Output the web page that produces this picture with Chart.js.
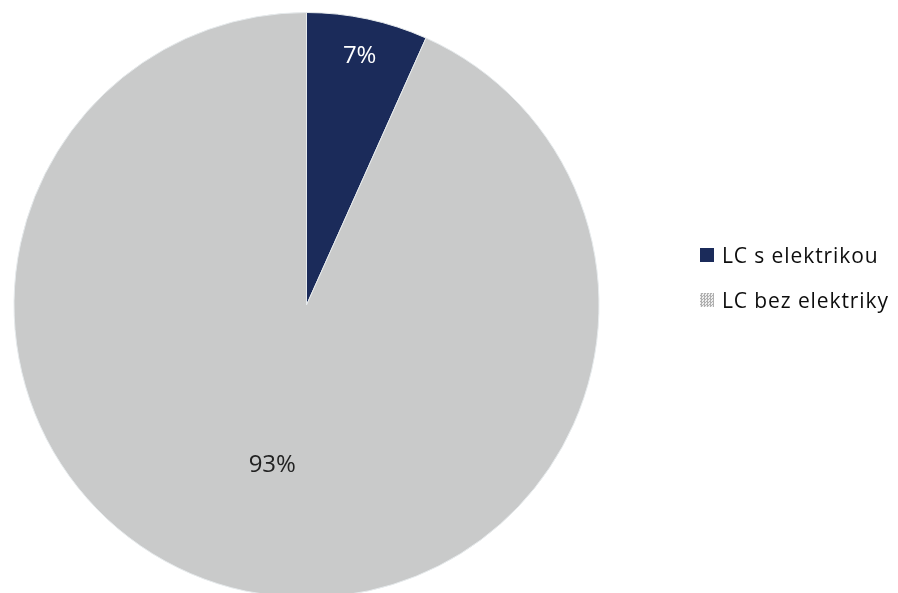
<!DOCTYPE html>
<html>
<head>
<meta charset="utf-8">
<script src="https://cdn.jsdelivr.net/npm/chart.js@4.4.1/dist/chart.umd.min.js"></script>
<style>
    html, body { margin: 0; padding: 0; background: #fff; overflow: hidden; }
    #wrap { position: relative; width: 898px; height: 593px; overflow: hidden; }
    #pie { position: absolute; left: 0; top: 0; }
    #legend { position: absolute; left: 700px; top: 232px; font-family: 'Open Sans', sans-serif; font-size: 21px; letter-spacing: 0.9px; color: #0d0d0d; }
    .item { display: flex; align-items: center; height: 45px; }
    .box { width: 14px; height: 14px; margin-right: 8px; }
</style>
</head>
<body>
<div id="wrap">
    <canvas id="pie" width="898" height="610"></canvas>
    <div id="legend"></div>
</div>
<script>
const labels = ['LC s elektrikou', 'LC bez elektriky']
const values = [6.7, 93.3]
const shownPct = ['7%', '93%']
const colors = ['#1b2b5a', '#c9caca']
const labelColors = ['#ffffff', '#222222']
const labelRadius = [0.87, 0.56]

const pctLabels = {
    id: 'pctLabels',
    afterDatasetsDraw(chart) {
        const ctx = chart.ctx
        const meta = chart.getDatasetMeta(0)
        ctx.save()
        ctx.font = '24px "Open Sans", sans-serif'
        ctx.textAlign = 'center'
        ctx.textBaseline = 'middle'
        meta.data.forEach((arc, i) => {
            const mid = (arc.startAngle + arc.endAngle) / 2
            const r = arc.outerRadius * labelRadius[i]
            const x = arc.x + Math.cos(mid) * r
            const y = arc.y + Math.sin(mid) * r
            ctx.fillStyle = labelColors[i]
            ctx.fillText(shownPct[i], x, y)
        })
        ctx.restore()
    }
}

new Chart(document.getElementById('pie').getContext('2d'), {
    type: 'pie',
    data: {
        labels: labels,
        datasets: [{
            data: values,
            backgroundColor: colors,
            borderColor: '#e6eaec',
            borderWidth: 1,
        }]
    },
    options: {
        responsive: false,
        animation: false,
        layout: {
            padding: { left: 13, top: 12, right: 298, bottom: 12 },
        },
        plugins: {
            legend: { display: false },
            tooltip: { enabled: false },
        },
    },
    plugins: [pctLabels],
})

const legend = document.getElementById('legend')
labels.forEach((label, i) => {
    const item = document.createElement('div')
    item.className = 'item'
    const box = document.createElement('span')
    box.className = 'box'
    if (i === 0) {
        box.style.background = colors[i]
    } else {
        box.style.background = 'repeating-conic-gradient(#b0b0b0 0% 25%, #eeeeee 0% 50%) 0 0 / 3px 3px'
    }
    const text = document.createElement('span')
    text.textContent = label
    item.appendChild(box)
    item.appendChild(text)
    legend.appendChild(item)
})
</script>
</body>
</html>
